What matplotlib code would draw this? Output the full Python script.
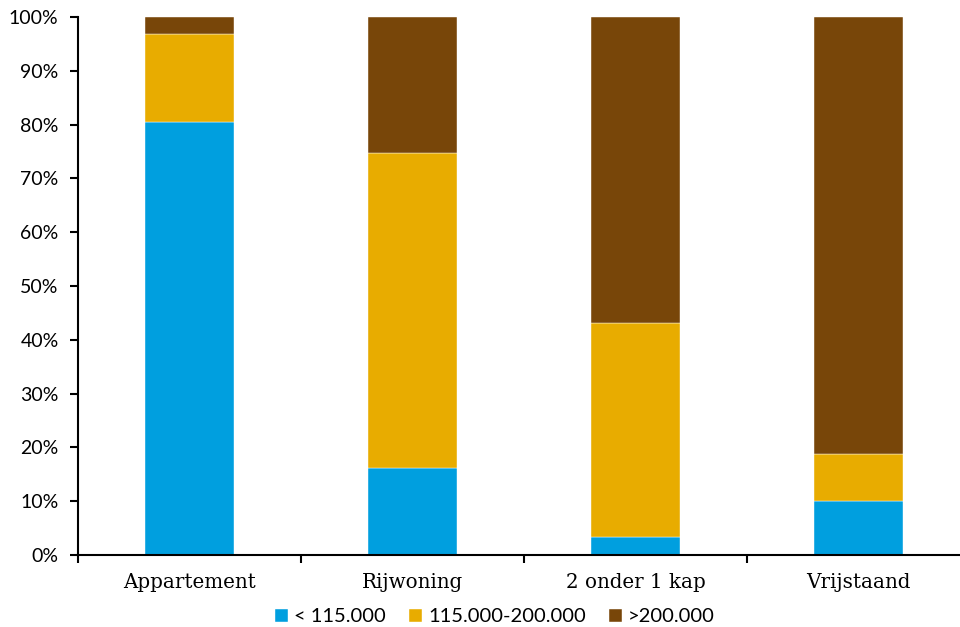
import matplotlib

matplotlib.use("Agg")
import matplotlib.pyplot as plt
from matplotlib.ticker import FuncFormatter

categories = ["Appartement", "Rijwoning", "2 onder 1 kap", "Vrijstaand"]
series_names = ["< 115.000", "115.000-200.000", ">200.000"]
low = [80.4, 16.2, 3.4, 10.1]
mid = [16.4, 58.6, 39.8, 8.6]
high = [3.2, 25.2, 56.8, 81.3]
colors = ["#009FDF", "#E8AC00", "#784609"]

fig = plt.figure(figsize=(9.6, 6.27), dpi=100)
ax = fig.add_axes([78 / 960, 1 - 555 / 627, 882 / 960, 538 / 627])

x = list(range(len(categories)))
bottom = [0.0] * len(categories)
for name, vals, col in zip(series_names, [low, mid, high], colors):
    ax.bar(x, vals, width=0.4, bottom=bottom, color=col, label=name,
           edgecolor="white", linewidth=0.3)
    bottom = [b + v for b, v in zip(bottom, vals)]

ax.set_xlim(-0.5, 3.455)
ax.set_ylim(0, 100)
ax.set_yticks(range(0, 101, 10))
ax.yaxis.set_major_formatter(FuncFormatter(lambda v, _: f"{v:.0f}%"))
for lab in ax.get_yticklabels():
    lab.set_fontfamily("Lato")
    lab.set_fontsize(14)

ax.set_xticks([-0.5, 0.5, 1.5, 2.5])
ax.set_xticklabels([])
ax.set_xticks(x, minor=True)
ax.set_xticklabels(categories, minor=True, fontfamily="DejaVu Serif", fontsize=14.3)
ax.tick_params(axis="x", which="minor", length=0, pad=13)
ax.tick_params(axis="x", which="major", length=6, width=1.5, direction="out")
ax.tick_params(axis="y", length=6, width=1.5, direction="out", pad=8)

for s in ["top", "right"]:
    ax.spines[s].set_visible(False)
for s in ["left", "bottom"]:
    ax.spines[s].set_linewidth(1.5)

leg = fig.legend(loc="center", bbox_to_anchor=(495 / 960, 1 - 617 / 627), ncol=3,
                 frameon=False, prop={"family": "Lato", "size": 14.5},
                 handlelength=0.65, handleheight=0.65, handletextpad=0.3,
                 columnspacing=1.15)

fig.savefig("out.png", dpi=100)
